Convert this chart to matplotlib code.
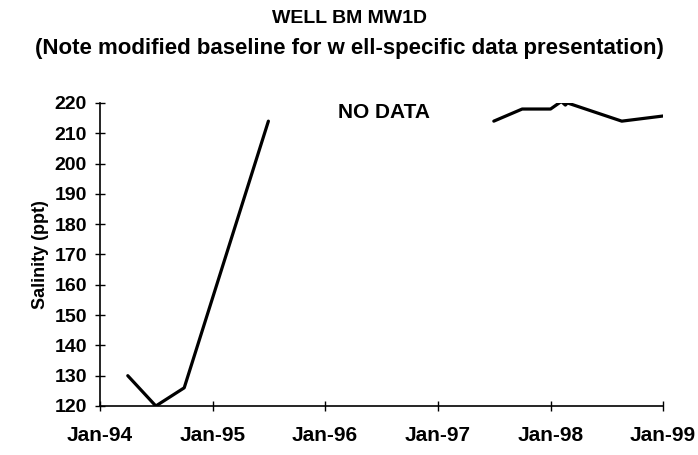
import numpy as np
import matplotlib
matplotlib.use('Agg')
import matplotlib.pyplot as plt
import matplotlib.dates as mdates
from datetime import datetime

plt.rcParams['font.family'] = ['Liberation Sans', 'DejaVu Sans']
plt.rcParams['font.weight'] = 'bold'

# Dữ liệu độ mặn (NaN = khoảng không có dữ liệu)
dates = ['1994-04-01', '1994-07-01', '1994-10-01', '1995-07-01',
         '1996-06-01',
         '1997-07-01', '1997-10-01', '1998-01-01', '1998-02-05', '1998-02-18',
         '1998-02-25', '1998-08-20', '1999-01-01']
salinity = [130, 120, 126, 214,
            np.nan,
            214, 218, 218, 220.5, 219.3,
            220, 214, 215.7]
xtick_years = [1994, 1995, 1996, 1997, 1998, 1999]
yticks = list(range(120, 221, 10))

x = [datetime.strptime(d, '%Y-%m-%d') for d in dates]

fig = plt.figure(figsize=(6.98, 4.55), dpi=100)
ax = fig.add_axes([0.1433, 0.1077, 0.8067, 0.666])

ax.plot(x, salinity, color='black', linewidth=2.3, solid_capstyle='round')

ax.set_xlim(datetime(1994, 1, 1), datetime(1999, 1, 1))
ax.set_ylim(120, 220)
ax.set_xticks([datetime(y, 1, 1) for y in xtick_years])
ax.xaxis.set_major_formatter(mdates.DateFormatter('%b-%y'))
ax.set_yticks(yticks)

ax.spines['top'].set_visible(False)
ax.spines['right'].set_visible(False)
ax.spines['left'].set_linewidth(1.2)
ax.spines['bottom'].set_linewidth(1.2)
ax.tick_params(axis='both', direction='inout', length=7, width=1.0)
ax.tick_params(axis='y', labelsize=14, pad=6)
ax.tick_params(axis='x', labelsize=15, pad=11)

ax.set_ylabel('Salinity (ppt)', fontsize=13, fontweight='bold', labelpad=4)

ax.text(datetime(1996, 7, 10), 217, 'NO DATA', ha='center', va='center', fontsize=15)

fig.text(0.5, 0.959, 'WELL BM MW1D', ha='center', va='center', fontsize=14)
fig.text(0.5, 0.893, '(Note modified baseline for w ell-specific data presentation)',
         ha='center', va='center', fontsize=16)

fig.savefig('out.png', dpi=100)
